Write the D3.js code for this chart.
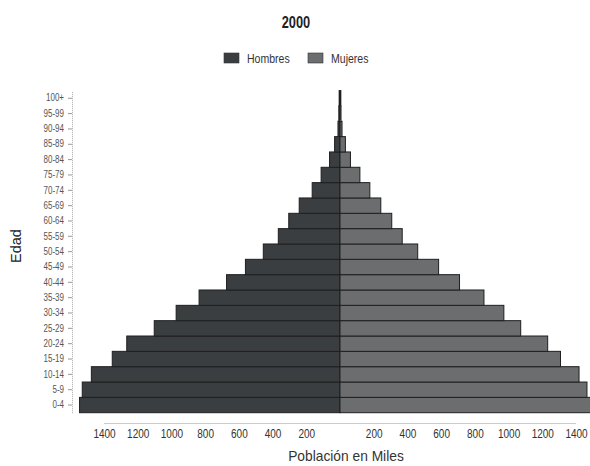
<!DOCTYPE html>
<html>
<head>
<meta charset="utf-8">
<script src="https://cdn.jsdelivr.net/npm/d3@7"></script>
<style>
body { margin:0; background:#fff; }
text { font-family:"Liberation Sans Narrow","Arial Narrow","Liberation Sans",Arial,sans-serif; }
</style>
</head>
<body>
<div id="chart-area"></div>
<script>
// data (miles de personas)
var ageGroups = ["0-4","5-9","10-14","15-19","20-24","25-29","30-34","35-39","40-44","45-49",
	"50-54","55-59","60-64","65-69","70-74","75-79","80-84","85-89","90-94","95-99","100+"];
var hombres = [1545,1529,1475,1351,1265,1102,972,836,673,561,455,366,304,242,165,112,62,32,12,7,5];
var mujeres = [1490,1465,1418,1308,1232,1072,972,854,709,585,461,369,307,242,177,118,62,32,12,6,5];
var xTicks = [-1400,-1200,-1000,-800,-600,-400,-200,200,400,600,800,1000,1200,1400];
var legendItems = ["Hombres","Mujeres"];

var width = 590, height = 466;
var colHombres = "#3b3e40", colMujeres = "#6b6d6f";

// squeeze text horizontally, the original uses a narrow font
function narrow(sel, k) {
	sel.each(function(){
		var w = this.getComputedTextLength();
		d3.select(this).attr("textLength", w*k).attr("lengthAdjust","spacingAndGlyphs");
	});
}

var svg = d3.select("#chart-area")
	.append("svg")
		.attr("width", width)
		.attr("height", height);

//scales
var x = d3.scaleLinear().domain([-1400,1400]).range([104,576]);
var y = d3.scaleBand().domain(ageGroups).range([412.7,90.6]).padding(0);

//title
svg.append("text")
	.attr("x",296).attr("y",28)
	.attr("text-anchor","middle")
	.attr("font-size","16px")
	.attr("font-weight","bold")
	.attr("fill","#222")
	.text("2000")
	.call(narrow, 0.8);

//legend
var legend = svg.append("g").attr("transform","translate(224,53)");
var legX = [0,84];
legendItems.forEach(function(name,i){
	legend.append("rect")
		.attr("x",legX[i]).attr("y",0)
		.attr("width",15).attr("height",10)
		.attr("fill", i==0 ? colHombres : colMujeres)
		.attr("stroke","#333").attr("stroke-width",0.6);
	legend.append("text")
		.attr("x",legX[i]+23).attr("y",10)
		.attr("font-size","13.5px")
		.attr("fill","#333")
		.text(name)
		.call(narrow, 0.78);
});

//bars
var rows = ageGroups.map(function(a,i){ return {age:a, h:hombres[i], m:mujeres[i]}; });

svg.append("g").selectAll("rect")
	.data(rows).enter().append("rect")
		.attr("x", d=>x(-d.h))
		.attr("y", d=>y(d.age))
		.attr("width", d=>x(0)-x(-d.h))
		.attr("height", y.bandwidth())
		.attr("fill", colHombres)
		.attr("stroke","#1e1f20").attr("stroke-width",1);

svg.append("g").selectAll("rect")
	.data(rows).enter().append("rect")
		.attr("x", x(0))
		.attr("y", d=>y(d.age))
		.attr("width", d=>x(d.m)-x(0))
		.attr("height", y.bandwidth())
		.attr("fill", colMujeres)
		.attr("stroke","#1e1f20").attr("stroke-width",1);

//x axis
var xAxis = svg.append("g")
	.attr("transform","translate(0,423)")
	.call(d3.axisBottom(x).tickValues(xTicks).tickSize(0).tickPadding(6)
		.tickFormat(d=>Math.abs(d)));
xAxis.select(".domain").attr("stroke","#999").attr("stroke-dasharray","1,1");
xAxis.selectAll("text").attr("font-size","12.5px").attr("fill","#333").attr("font-family",null)
	.call(narrow, 0.8);

//y axis
var yAxis = svg.append("g")
	.attr("transform","translate(72,0)")
	.call(d3.axisLeft(y).tickSize(4).tickPadding(4).tickSizeOuter(0));
yAxis.select(".domain").attr("stroke","#aaa").attr("stroke-dasharray","1,1");
yAxis.selectAll(".tick line").attr("stroke","#999");
yAxis.selectAll("text").attr("font-size","10px").attr("fill","#555").attr("font-family",null)
	.call(narrow, 0.8);

//axis titles
svg.append("text")
	.attr("x",346).attr("y",461)
	.attr("text-anchor","middle")
	.attr("font-size","14.5px")
	.attr("fill","#333")
	.text("Población en Miles")
	.call(narrow, 0.95);

svg.append("text")
	.attr("transform","translate(21,246) rotate(-90)")
	.attr("text-anchor","middle")
	.attr("font-size","14.5px")
	.attr("fill","#222")
	.text("Edad");
</script>
</body>
</html>
